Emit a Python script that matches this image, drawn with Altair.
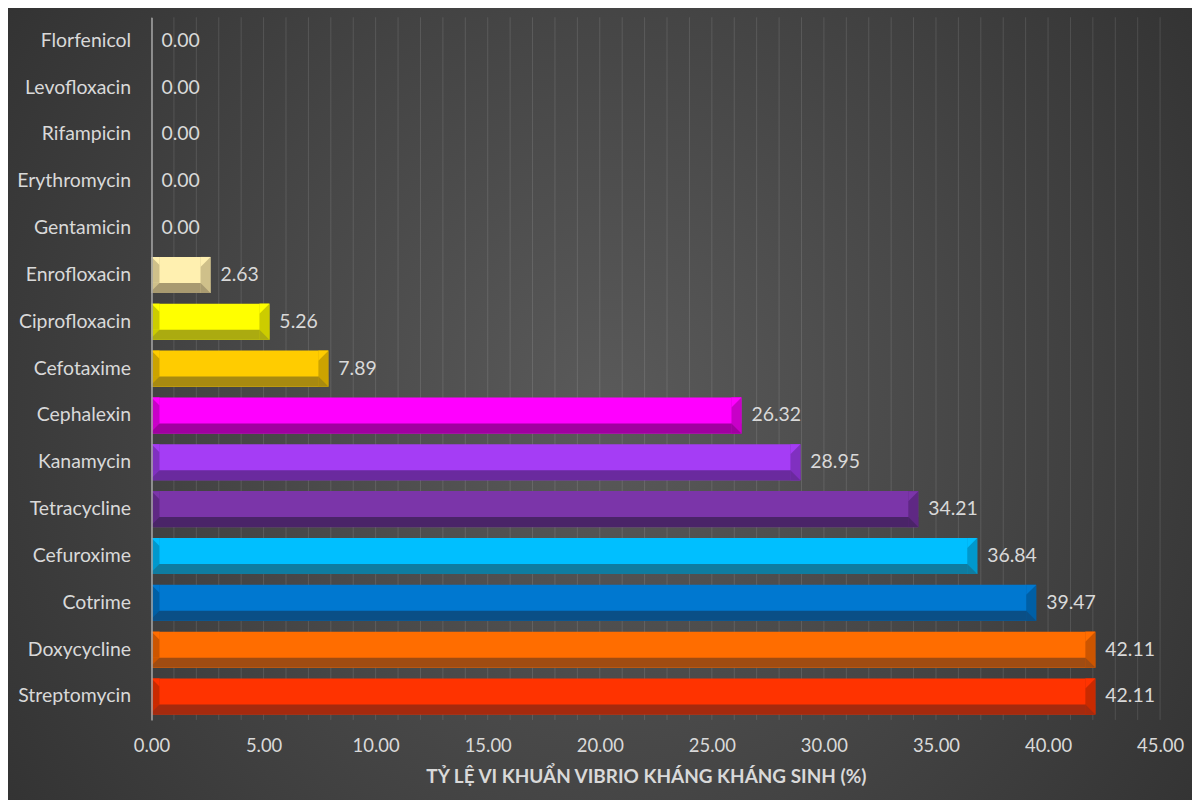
import altair as alt
import pandas as pd

# ---- data (top to bottom) ----
categories = ["Florfenicol", "Levofloxacin", "Rifampicin", "Erythromycin", "Gentamicin",
              "Enrofloxacin", "Ciprofloxacin", "Cefotaxime", "Cephalexin", "Kanamycin",
              "Tetracycline", "Cefuroxime", "Cotrime", "Doxycycline", "Streptomycin"]
values = [0.00, 0.00, 0.00, 0.00, 0.00, 2.63, 5.26, 7.89, 26.32, 28.95,
          34.21, 36.84, 39.47, 42.11, 42.11]
face_colors = ["#888888", "#888888", "#888888", "#888888", "#888888",
               "#FFF0B0", "#FFFF00", "#FFCC00", "#FF00FF", "#A53DF5",
               "#7B35A9", "#00BFFF", "#0078D0", "#FF6D00", "#FF3300"]
side_colors = ["#666666", "#666666", "#666666", "#666666", "#666666",
               "#CFC08A", "#CCCC00", "#CCA300", "#C800C8", "#8030C0",
               "#5F2884", "#0098CC", "#005FA5", "#CC5500", "#C92A00"]
bottom_colors = ["#555555", "#555555", "#555555", "#555555", "#555555",
                 "#A89A70", "#ABAB10", "#A88A10", "#A000A0", "#6A2A9E",
                 "#4A2468", "#0F7CA0", "#0A4F86", "#A04C12", "#A52A0E"]
x_labels = [0, 5, 10, 15, 20, 25, 30, 35, 40, 45]
x_grid = list(range(0, 46))

df = pd.DataFrame({"cat": categories, "val": values,
                   "face": face_colors, "side": side_colors, "bottom": bottom_colors})
grid_df = pd.DataFrame({"t": x_grid})

W, H = 1012, 705
FONT = "Lato"
TXT = "#d9d9d9"

bg = alt.Chart(pd.DataFrame({"a": [0]})).mark_rect(
    fill=alt.RadialGradient(
        gradient="radial",
        stops=[alt.GradientStop(color="#5a5a5a", offset=0),
               alt.GradientStop(color="#444444", offset=0.45),
               alt.GradientStop(color="#282828", offset=1)],
        x1=0.5, y1=0.5, r1=0, x2=0.5, y2=0.5, r2=0.75),
).encode(x=alt.value(-160), x2=alt.value(W + 60), y=alt.value(-20), y2=alt.value(H + 100))

x_scale = alt.Scale(domain=[0, 45], nice=False)

grid = alt.Chart(grid_df).mark_rule(color="#ffffff", opacity=0.12, strokeWidth=1).encode(
    x=alt.X("t:Q", scale=x_scale),
)

y_enc = alt.Y("cat:N", sort=categories,
              scale=alt.Scale(paddingInner=0.23, paddingOuter=0.115),
              axis=alt.Axis(title=None, labelColor=TXT, labelFontSize=19.5, labelFont=FONT,
                            labelPadding=21, ticks=False, domain=True, zindex=1,
                            domainColor="#a6a6a6", domainWidth=1.5, grid=False))
x_axis = alt.Axis(values=x_labels, grid=False, zindex=1, format=".2f",
                  ticks=False, domain=False, labelColor=TXT, labelFontSize=18.5,
                  labelFont=FONT, labelPadding=17, labelFlush=False, labelOverlap=False,
                  title="TỶ LỆ VI KHUẨN VIBRIO KHÁNG KHÁNG SINH (%)",
                  titleColor=TXT, titleFontSize=19, titleFont=FONT, titleFontWeight="bold",
                  titlePadding=12, titleX=W / 2 - 10, titleAnchor="middle")

base = alt.Chart(df)
pos = base.transform_filter("datum.val > 0")
Y = alt.Y("cat:N", sort=categories)

bars = pos.mark_bar().encode(
    y=y_enc,
    x=alt.X("val:Q", scale=x_scale, axis=x_axis),
    color=alt.Color("face:N", scale=None),
)
bottom = pos.mark_bar(size=10, yOffset=13).encode(
    y=Y, x=alt.X("val:Q"), color=alt.Color("bottom:N", scale=None),
)
right = pos.mark_bar(xOffset=-10).encode(
    y=Y, x=alt.X("val:Q"), x2=alt.X2("val:Q"), color=alt.Color("side:N", scale=None),
)
left = pos.mark_bar(size=26, yOffset=-5).encode(
    y=Y, x=alt.value(0), x2=alt.value(8),
    color=alt.Color("side:N", scale=None),
)
# bevel corners (triangles)
tri_tr = pos.mark_point(shape="M-1,-1L1,-1L-1,1Z", filled=True, size=100, opacity=1,
                        strokeWidth=0, xOffset=-5, yOffset=-13).encode(
    y=Y, x=alt.X("val:Q"), color=alt.Color("face:N", scale=None))
tri_br = pos.mark_point(shape="M-1,-1L-1,1L1,1Z", filled=True, size=100, opacity=1,
                        strokeWidth=0, xOffset=-5, yOffset=13).encode(
    y=Y, x=alt.X("val:Q"), color=alt.Color("bottom:N", scale=None))
tri_tl = pos.mark_point(shape="M-1,-1L1,-1L1,1Z", filled=True, size=64, opacity=1,
                        strokeWidth=0, xOffset=4, yOffset=-14).encode(
    y=Y, x=alt.datum(0), color=alt.Color("face:N", scale=None))
tri_bl = pos.mark_point(shape="M-1,-1L1,-1L-1,1Z", filled=True, size=64, opacity=1,
                        strokeWidth=0, xOffset=4, yOffset=12).encode(
    y=Y, x=alt.datum(0), color=alt.Color("side:N", scale=None))

labels = base.mark_text(align="left", dx=10, fontSize=19.5, font=FONT, color=TXT).encode(
    y=Y, x=alt.X("val:Q"), text=alt.Text("val:Q", format=".2f"),
)

chart = alt.layer(bg, grid, bars, bottom, right, left, tri_tr, tri_br, tri_tl, tri_bl,
                  labels).properties(
    width=W, height=H,
    autosize=alt.AutoSizeParams(type="none"),
    padding={"left": 144, "top": 8, "right": 32, "bottom": 79},
).configure_view(stroke=None).configure(background="#2e2e2e")

chart.save("out.html", embed_options={"renderer": "svg", "actions": False})
